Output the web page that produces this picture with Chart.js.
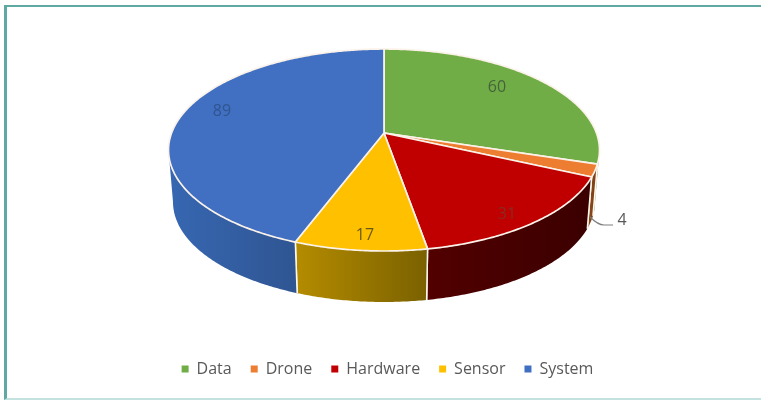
<!DOCTYPE html>
<html>
<head>
<meta charset="utf-8">
<style>
  html, body { margin: 0; padding: 0; background: #fff; }
  #wrap { position: relative; width: 761px; height: 400px; overflow: hidden; }
  #frame { position: absolute; left: 4px; top: 5px; width: 754px; height: 391px;
           border-top: 2.5px solid #5fa9a2; border-left: 3px solid #5fa9a2;
           border-right: 2px solid #c4e2df; border-bottom: 2px solid #c4e2df;
           box-sizing: content-box; }
  canvas { position: absolute; left: 0; top: 0; }
</style>
</head>
<body>
<div id="wrap">
  <div id="frame"></div>
  <canvas id="chart" width="761" height="400"></canvas>
</div>
<script src="https://cdn.jsdelivr.net/npm/chart.js@4"></script>
<script>
const categories = ['Data', 'Drone', 'Hardware', 'Sensor', 'System'];
const counts = [60, 4, 31, 17, 89];
const topColors = ['#70ad47', '#ed7d31', '#c00000', '#ffc000', '#4170c2'];

// Side wall shading, left to right
const wallShades = [
  ['#4f7a32', '#466d2c'],
  ['#8a4a1c', '#7a3f16'],
  ['#520000', '#3b0000'],
  ['#b58c00', '#7a6100'],
  ['#3767b2', '#2f5592']
];

// Perspective disc: top face and bottom rim as two projected ellipses
const TILT = -0.168;
const topFace = { cx: 384, cy: 150, rx: 215.5, ry: 101 };
const bottomRim = { cx: 384, cy: 202, rx: 211, ry: 100 };

function project(face, angle, r = 1) {
  const u = Math.cos(angle) * r, v = Math.sin(angle) * r;
  const d = 1 + TILT * v;
  return [
    face.cx + face.rx * u * Math.sqrt(1 - TILT * TILT) / d,
    face.cy + face.ry * (v + TILT) / d
  ];
}

function arcPoints(face, from, to) {
  const pts = [];
  const n = Math.max(2, Math.ceil(Math.abs(to - from) / 0.01));
  for (let i = 0; i <= n; i++) pts.push(project(face, from + (to - from) * i / n));
  return pts;
}

// Placement of the value captions
const captionSpots = [[497, 87], [622, 220], [507, 214], [365, 235], [222, 111]];
const captionInks = ['#45643a', '#595959', '#8c2a22', '#6a5a14', '#30558f'];

const pie3d = {
  id: 'pie3d',
  beforeDatasetsDraw(chart) {
    const ctx = chart.ctx;
    const arcs = chart.getDatasetMeta(0).data;
    const wallFrom = Math.asin(-TILT), wallTo = Math.PI - wallFrom;

    ctx.save();
    ctx.lineJoin = 'round';

    // Front walls with a light seam where two slices meet
    arcs.forEach((a, i) => {
      const s = Math.max(a.startAngle, wallFrom);
      const e = Math.min(a.endAngle, wallTo);
      if (e <= s) return;
      const upper = arcPoints(topFace, s, e);
      const lower = arcPoints(bottomRim, s, e);
      const xs = upper.concat(lower).map(p => p[0]);
      const g = ctx.createLinearGradient(Math.min(...xs), 0, Math.max(...xs), 0);
      g.addColorStop(0, wallShades[i][0]);
      g.addColorStop(1, wallShades[i][1]);
      ctx.beginPath();
      upper.forEach((p, k) => k ? ctx.lineTo(p[0], p[1]) : ctx.moveTo(p[0], p[1]));
      lower.reverse().forEach(p => ctx.lineTo(p[0], p[1]));
      ctx.closePath();
      ctx.fillStyle = g;
      ctx.fill();
      ctx.strokeStyle = '#fff8ee';
      ctx.lineWidth = 1.5;
      [[s, a.startAngle], [e, a.endAngle]].forEach(([t, edge]) => {
        if (t !== edge) return;
        const p = project(topFace, t), q = project(bottomRim, t);
        ctx.beginPath(); ctx.moveTo(p[0], p[1]); ctx.lineTo(q[0], q[1]); ctx.stroke();
      });
    });

    // Top face slices
    const apex = project(topFace, 0, 0);
    arcs.forEach((a, i) => {
      ctx.beginPath();
      ctx.moveTo(apex[0], apex[1]);
      arcPoints(topFace, a.startAngle, a.endAngle).forEach(p => ctx.lineTo(p[0], p[1]));
      ctx.closePath();
      ctx.fillStyle = topColors[i];
      ctx.fill();
      ctx.strokeStyle = '#fbf3ea';
      ctx.lineWidth = 1.7;
      ctx.stroke();
    });

    // Leader from the narrow slice out to its caption
    ctx.beginPath();
    ctx.moveTo(590, 217);
    ctx.bezierCurveTo(595, 222, 599, 225, 604, 225);
    ctx.lineTo(613, 225);
    ctx.strokeStyle = '#7f7f7f';
    ctx.lineWidth = 1.2;
    ctx.stroke();

    // Value captions
    ctx.font = '16px "Open Sans"';
    ctx.textAlign = 'center';
    ctx.textBaseline = 'middle';
    counts.forEach((v, i) => {
      ctx.fillStyle = captionInks[i];
      ctx.fillText(String(v), captionSpots[i][0], captionSpots[i][1]);
    });

    ctx.restore();
    return false;
  }
};

new Chart(document.getElementById('chart'), {
  type: 'pie',
  data: {
    labels: categories,
    datasets: [{ data: counts, backgroundColor: topColors, borderWidth: 0 }]
  },
  options: {
    responsive: false,
    animation: false,
    layout: { padding: { left: 14, bottom: 13 } },
    plugins: {
      tooltip: { enabled: false },
      legend: {
        position: 'bottom',
        labels: {
          boxWidth: 7,
          boxHeight: 7,
          padding: 19,
          color: '#595959',
          font: { family: '"Open Sans"', size: 16 }
        }
      }
    }
  },
  plugins: [pie3d]
});
</script>
</body>
</html>
